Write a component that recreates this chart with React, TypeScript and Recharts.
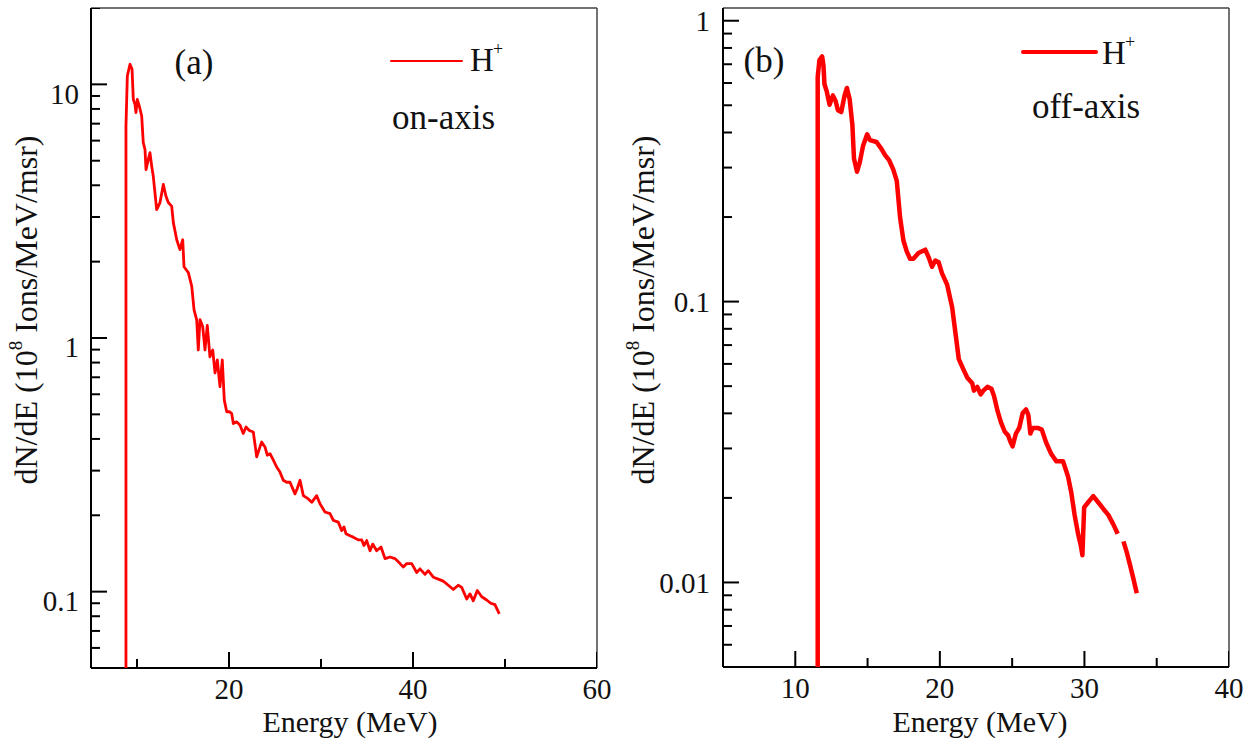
import React from "react";
import { ComposedChart, Line, Scatter, XAxis, YAxis, ReferenceLine } from "recharts";

// (a) on-axis spectrum
const energyA = [
  8.8, 8.8, 8.95, 9.24, 9.46, 9.6, 9.78, 9.89, 10.03, 10.25, 10.51, 10.68, 10.87, 10.98, 11.23, 11.41,
  11.6, 11.77, 12.14, 12.5, 12.86, 13.15, 13.4, 13.77, 13.95, 14.32, 14.67, 14.97, 15.11, 15.58, 15.95,
  16.2, 16.49, 16.66, 16.85, 17.14, 17.39, 17.64, 17.93, 18.23, 18.48, 18.73, 19.02, 19.27, 19.49, 19.75,
  20.03, 20.29, 20.47, 20.84, 21.2, 21.55, 21.85, 22.21, 22.64, 23.01, 23.37, 23.55, 23.91, 24.16, 24.46,
  24.82, 25.18, 25.54, 25.9, 26.27, 26.63, 27.17, 27.42, 27.72, 28.08, 28.62, 28.99, 29.53, 29.89, 30.43,
  30.98, 31.34, 31.88, 32.25, 32.5, 32.72, 33.15, 33.51, 34.05, 34.42, 34.67, 34.97, 35.33, 35.62, 36.05,
  36.52, 36.96, 37.5, 38.04, 38.59, 38.95, 39.32, 39.86, 40.4, 40.76, 41.3, 41.66, 42.21, 42.75, 43.29,
  43.84, 44.38, 44.92, 45.29, 45.84, 46.2, 46.55, 46.99, 47.47, 48.01, 48.45, 48.91, 49.38,
];
const fluxA = [
  0.05, 6.82, 10.8, 12.0, 11.5, 8.73, 8.34, 7.74, 8.73, 8.21, 7.5, 5.9, 5.53, 4.61, 5.06, 5.38,
  4.75, 4.34, 3.21, 3.42, 4.03, 3.62, 3.42, 3.31, 2.85, 2.44, 2.23, 2.44, 1.91, 1.81, 1.6,
  1.29, 1.18, 0.897, 1.18, 1.11, 0.897, 1.12, 0.843, 0.897, 0.728, 0.819, 0.643, 0.819, 0.569, 0.512,
  0.512, 0.504, 0.46, 0.467, 0.453, 0.42, 0.446, 0.432, 0.426, 0.34, 0.372, 0.389, 0.372, 0.345, 0.35,
  0.33, 0.31, 0.296, 0.275, 0.27, 0.27, 0.243, 0.255, 0.275, 0.239, 0.232, 0.225, 0.239, 0.222, 0.206,
  0.203, 0.191, 0.188, 0.174, 0.18, 0.169, 0.166, 0.164, 0.16, 0.16, 0.152, 0.159, 0.145, 0.154, 0.145,
  0.15, 0.135, 0.137, 0.135, 0.129, 0.125, 0.129, 0.129, 0.119, 0.123, 0.117, 0.121, 0.114, 0.112, 0.11,
  0.106, 0.102, 0.106, 0.104, 0.0935, 0.098, 0.092, 0.101, 0.0955, 0.0927, 0.09, 0.0889, 0.0817,
];

// (b) off-axis spectrum (null = gap in the trace)
const energyB = [
  11.55, 11.55, 11.67, 11.86, 11.95, 12.02, 12.18, 12.37, 12.6, 12.79, 12.95, 13.18, 13.41, 13.57, 13.76,
  13.95, 14.06, 14.27, 14.46, 14.69, 14.97, 15.16, 15.62, 15.97, 16.2, 16.5, 16.78, 17.02, 17.25, 17.48,
  17.71, 17.94, 18.17, 18.52, 18.99, 19.22, 19.46, 19.69, 19.92, 20.15, 20.5, 20.85, 21.08, 21.31, 21.66,
  21.9, 22.24, 22.36, 22.59, 22.82, 23.01, 23.29, 23.57, 23.75, 23.99, 24.22, 24.49, 24.72, 24.86, 25.03,
  25.26, 25.49, 25.73, 25.96, 26.12, 26.26, 26.43, 26.77, 27.05, 27.35, 27.7, 28.05, 28.52, 28.86, 29.09,
  29.32, 29.56, 29.74, 29.86, 29.98, 30.26, 30.61, 30.95, 31.3, 31.65, 32.0, 32.3, 32.5, 32.7, 32.93,
  33.16, 33.39, 33.62,
];
const fluxB = [
  0.005, 0.631, 0.724, 0.746, 0.691, 0.594, 0.559, 0.502, 0.542, 0.518, 0.48, 0.473, 0.542, 0.576, 0.526,
  0.425, 0.323, 0.29, 0.313, 0.359, 0.394, 0.376, 0.37, 0.349, 0.333, 0.318, 0.295, 0.269, 0.199, 0.165,
  0.151, 0.142, 0.142, 0.149, 0.153, 0.144, 0.133, 0.14, 0.138, 0.126, 0.115, 0.0955, 0.0772, 0.0624, 0.0569,
  0.0536, 0.0512, 0.0482, 0.0497, 0.0467, 0.0482, 0.0497, 0.0489, 0.046, 0.0408, 0.0372, 0.0344, 0.0334, 0.0319, 0.0305,
  0.0339, 0.0355, 0.0401, 0.0413, 0.0395, 0.0339, 0.0355, 0.0355, 0.035, 0.0315, 0.0287, 0.027, 0.027, 0.0239, 0.0209,
  0.0174, 0.0149, 0.0136, 0.0125, 0.0185, 0.0193, 0.0203, 0.0193, 0.0183, 0.0174, 0.0161, 0.0149, null, 0.014, 0.0128,
  0.0115, 0.0103, 0.00916,
];

const xMajorA = [20, 40, 60];
const xMinorA = [10, 30, 50];
const yMajorA = [0.1, 1, 10];
const yMinorA = [
  0.05, 0.06, 0.07, 0.08, 0.09, 0.2, 0.3, 0.4, 0.5, 0.6, 0.7, 0.8, 0.9,
  2, 3, 4, 5, 6, 7, 8, 9, 20,
];
const xMajorB = [10, 20, 30, 40];
const xMinorB = [15, 25, 35];
const yMajorB = [0.01, 0.1, 1];
const yMinorB = [
  0.005, 0.006, 0.007, 0.008, 0.009, 0.02, 0.03, 0.04, 0.05, 0.06, 0.07, 0.08, 0.09,
  0.2, 0.3, 0.4, 0.5, 0.6, 0.7, 0.8, 0.9,
];

const SERIF = "Liberation Serif, Times New Roman, serif";
const RED = "#ff0000";
const tickFont = { fontSize: 29, fontFamily: SERIF, fill: "#111" };

const dataA = energyA.map((e, i) => ({ e, f: fluxA[i] }));
const dataB = energyB.map((e, i) => ({ e, f: fluxB[i] }));

// tick marks sit on the axes: x ticks on the bottom edge, y ticks on the left edge
function tickMarks(xMajor: number[], xMinor: number[], yMajor: number[], yMinor: number[], xDomain: number[], yDomain: number[]) {
  return [
    ...xMajor.map((v) => ({ e: v, f: yDomain[0], axis: "x", len: 16 })),
    ...xMinor.map((v) => ({ e: v, f: yDomain[0], axis: "x", len: 9 })),
    ...yMajor.map((v) => ({ e: xDomain[0], f: v, axis: "y", len: 16 })),
    ...yMinor.map((v) => ({ e: xDomain[0], f: v, axis: "y", len: 9 })),
  ];
}

// inward tick drawn at the scaled position of each mark
const TickShape = (props: any) => {
  const { cx, cy, payload } = props;
  if (payload.axis === "x") {
    return <line x1={cx} x2={cx} y1={cy} y2={cy - payload.len} stroke="#000" strokeWidth={2} />;
  }
  return <line x1={cx} x2={cx + payload.len} y1={cy} y2={cy} stroke="#000" strokeWidth={2} />;
};

function Panel({
  data, xDomain, yDomain, xMajor, xMinor, yMajor, yMinor, labelDy, yMargin, width, margin, strokeWidth,
}: any) {
  const marks = tickMarks(xMajor, xMinor, yMajor, yMinor, xDomain, yDomain);
  return (
    <ComposedChart width={width} height={745} data={data} margin={margin}>
      <XAxis
        dataKey="e"
        type="number"
        domain={xDomain}
        ticks={xMajor}
        interval={0}
        allowDataOverflow
        height={1}
        stroke="#000"
        tickSize={-16}
        tickMargin={26}
        tickLine={false}
        axisLine={false}
        tick={tickFont}
      />
      <YAxis
        type="number"
        scale="log"
        domain={yDomain}
        ticks={yMajor}
        interval={0}
        allowDataOverflow
        width={1}
        stroke="#000"
        tickSize={-16}
        tickMargin={yMargin}
        tickLine={false}
        axisLine={false}
        tick={{ ...tickFont, dy: labelDy }}
      />
      {/* frame */}
      <ReferenceLine y={yDomain[1]} stroke="#444" strokeWidth={1.5} />
      <ReferenceLine x={xDomain[1]} stroke="#444" strokeWidth={1.5} />
      <ReferenceLine y={yDomain[0]} stroke="#000" strokeWidth={2} />
      <ReferenceLine x={xDomain[0]} stroke="#000" strokeWidth={2} />
      <Scatter data={marks} dataKey="f" shape={TickShape} isAnimationActive={false} />
      <Line
        type="linear"
        dataKey="f"
        stroke={RED}
        strokeWidth={strokeWidth}
        strokeLinejoin="round"
        dot={false}
        activeDot={false}
        isAnimationActive={false}
      />
    </ComposedChart>
  );
}

// HTML text placed by baseline (Liberation Serif, line-height = font size)
function Txt({ x, base, size, center, children }: any) {
  return (
    <div
      style={{
        position: "absolute",
        left: x,
        top: base - 0.8375 * size,
        fontSize: size,
        lineHeight: `${size}px`,
        fontFamily: SERIF,
        color: "#111",
        whiteSpace: "nowrap",
        transform: center ? "translateX(-50%)" : undefined,
      }}
    >
      {children}
    </div>
  );
}

function YTitle({ cx, cy }: { cx: number; cy: number }) {
  return (
    <div
      style={{
        position: "absolute",
        left: cx,
        top: cy,
        fontSize: 32,
        lineHeight: "32px",
        fontFamily: SERIF,
        color: "#111",
        whiteSpace: "nowrap",
        transform: "translate(-50%,-50%) rotate(-90deg)",
      }}
    >
      dN/dE (10<span style={{ fontSize: 19, position: "relative", top: -15 }}>8</span> Ions/MeV/msr)
    </div>
  );
}

function Swatch({ x, y, w, h }: any) {
  return (
    <div
      style={{
        position: "absolute",
        left: x,
        top: y - h / 2,
        width: w,
        height: h,
        background: RED,
        borderRadius: h / 2,
      }}
    />
  );
}

export default function App() {
  return (
    <div style={{ position: "relative", width: 1250, height: 745, background: "#fff" }}>
      <style>{`body{margin:0;background:#fff}`}</style>

      {/* annotations, legends, axis titles */}
      <Txt x={194} base={74} size={35} center>(a)</Txt>
      <Swatch x={390} y={61} w={73} h={2.8} />
      <Txt x={470} base={72} size={33}>H</Txt>
      <Txt x={493} base={55} size={18}>+</Txt>
      <Txt x={392} base={129} size={35}>on-axis</Txt>

      <Txt x={764} base={72} size={35} center>(b)</Txt>
      <Swatch x={1021} y={52} w={77} h={4.5} />
      <Txt x={1102} base={65} size={33}>H</Txt>
      <Txt x={1125} base={48} size={18}>+</Txt>
      <Txt x={1032} base={118} size={35}>off-axis</Txt>

      <Txt x={350} base={732} size={30} center>Energy (MeV)</Txt>
      <Txt x={980} base={732} size={30} center>Energy (MeV)</Txt>
      <YTitle cx={28} cy={310} />
      <YTitle cx={645} cy={310} />

      <div style={{ position: "absolute", left: 0, top: 0 }}>
        <Panel
          data={dataA}
          xDomain={[5, 60]}
          yDomain={[0.05, 20]}
          xMajor={xMajorA}
          xMinor={xMinorA}
          yMajor={yMajorA}
          yMinor={yMinorA}
          labelDy={9}
          yMargin={28}
          width={620}
          margin={{ top: 8, right: 23, bottom: 76, left: 90 }}
          strokeWidth={2.8}
        />
      </div>
      <div style={{ position: "absolute", left: 620, top: 0 }}>
        <Panel
          data={dataB}
          xDomain={[5, 40]}
          yDomain={[0.005, 1.11]}
          xMajor={xMajorB}
          xMinor={xMinorB}
          yMajor={yMajorB}
          yMinor={yMinorB}
          labelDy={0}
          yMargin={29}
          width={630}
          margin={{ top: 8, right: 21, bottom: 77, left: 102 }}
          strokeWidth={4.5}
        />
      </div>
    </div>
  );
}
